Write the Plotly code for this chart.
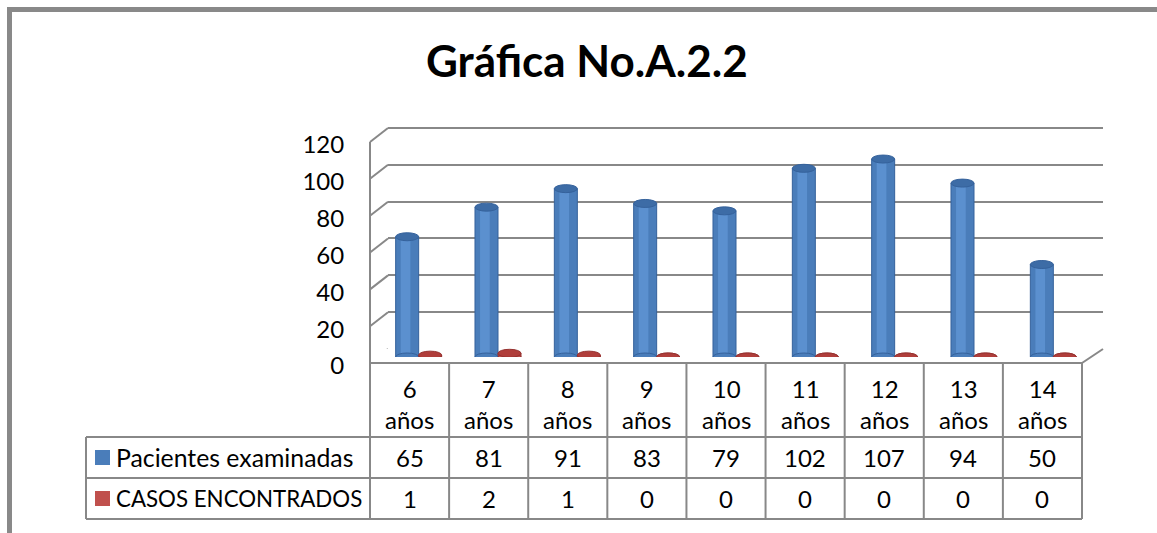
import plotly.graph_objects as go

# ---------------- data ----------------
categories = ["6 años", "7 años", "8 años", "9 años", "10 años",
              "11 años", "12 años", "13 años", "14 años"]
pacientes = [65, 81, 91, 83, 79, 102, 107, 94, 50]
casos = [1, 2, 1, 0, 0, 0, 0, 0, 0]
series_names = ["Pacientes examinadas", "CASOS ENCONTRADOS"]
y_ticks = [0, 20, 40, 60, 80, 100, 120]
title_text = "Gráfica No.A.2.2"

# ---------------- style / layout ----------------
W, H = 1157, 533
FONT = "Lato"
BLUE, RED = "#4A7DBA", "#C0504D"
BLUE_HI = "#5B90CF"
BLUE_TOP, BLUE_EDGE = "#3D6CA6", "#35629C"
RED_TOP, RED_EDGE = "#B03E3B", "#963230"
GRID = "#888888"

def px(p):
    return p / W

def py(p):
    return 1 - p / H

# pseudo-3D geometry (pixels)
BACK_X = (388, 1103)
BACK_Y = (349, 128)     # y of 0 and 120 on the back wall
MID_X = (379, 1093)
MID_Y = (357, 135)
FRONT_X = (370, 1082)
FRONT_Y = (366, 145)
FLOOR_FRONT = 363
TABLE_LEFT = 86
ROW_Y = [363, 437, 478, 519]

ymax = y_ticks[-1]
n = len(categories)
bw = 0.29   # bar width (category units)

# back-wall axis gets a little head-room so its top gridline is drawn
head = 1.0
back_top_px = BACK_Y[1] - (BACK_Y[0] - BACK_Y[1]) / ymax * head

fig = go.Figure()

# back wall subplot (gridlines)
fig.add_trace(go.Scatter(x=[], y=[], xaxis="x", yaxis="y", showlegend=False,
                         hoverinfo="skip"))
# bars subplot
fig.add_trace(go.Bar(x=categories, y=pacientes, name=series_names[0],
                     width=bw, offset=-bw,
                     marker=dict(color=BLUE, line=dict(color=BLUE_EDGE, width=1)),
                     xaxis="x2", yaxis="y2", showlegend=False, hoverinfo="skip"))
# cylinder highlight (same values, narrower, lighter)
fig.add_trace(go.Bar(x=categories, y=pacientes, name=series_names[0],
                     width=bw * 0.42, offset=-bw + bw * 0.22,
                     marker=dict(color=BLUE_HI, line=dict(width=0)),
                     xaxis="x2", yaxis="y2", showlegend=False, hoverinfo="skip"))
fig.add_trace(go.Bar(x=categories, y=casos, name=series_names[1],
                     width=bw, offset=0,
                     marker=dict(color=RED, line=dict(color=RED_EDGE, width=1)),
                     xaxis="x2", yaxis="y2", showlegend=False, hoverinfo="skip"))
# front tick-label subplot
fig.add_trace(go.Scatter(x=[], y=[], xaxis="x3", yaxis="y3", showlegend=False,
                         hoverinfo="skip"))

shapes = []
annotations = []

# cylinder ends (ellipses) derived from data values
for s_idx, (vals, top_fill, top_line, body) in enumerate(
        [(pacientes, BLUE_TOP, BLUE_EDGE, BLUE), (casos, RED_TOP, RED_EDGE, RED)]):
    off = (-bw / 2) if s_idx == 0 else (bw / 2)
    for i, v in enumerate(vals):
        c = i + off
        shapes.append(dict(type="circle", xref="x2", yref="y2", ysizemode="pixel",
                           yanchor=0, y0=-4, y1=4, x0=c - bw / 2, x1=c + bw / 2,
                           fillcolor=body, line=dict(color=top_line, width=1)))
        shapes.append(dict(type="circle", xref="x2", yref="y2", ysizemode="pixel",
                           yanchor=v, y0=-4, y1=4, x0=c - bw / 2, x1=c + bw / 2,
                           fillcolor=top_fill, line=dict(color=top_line, width=1)))

# side wall diagonals for each gridline
for v in y_ticks:
    shapes.append(dict(type="line", xref="paper", yref="y", ysizemode="pixel",
                       yanchor=v, x0=px(BACK_X[0]), x1=px(FRONT_X[0]),
                       y0=0, y1=-(FLOOR_FRONT - BACK_Y[0]),
                       line=dict(color=GRID, width=2), layer="below"))
# front left vertical edge
shapes.append(dict(type="line", xref="paper", yref="paper",
                   x0=px(FRONT_X[0]), x1=px(FRONT_X[0]),
                   y0=py(FLOOR_FRONT), y1=py(BACK_Y[1] + (FLOOR_FRONT - BACK_Y[0])),
                   line=dict(color=GRID, width=2), layer="below"))
# floor right diagonal
shapes.append(dict(type="line", xref="paper", yref="paper",
                   x0=px(BACK_X[1]), x1=px(FRONT_X[1]),
                   y0=py(BACK_Y[0]), y1=py(FLOOR_FRONT),
                   line=dict(color=GRID, width=2), layer="below"))

# ---------------- data table ----------------
col_w = (FRONT_X[1] - FRONT_X[0]) / n
col_edges = [FRONT_X[0] + k * col_w for k in range(n + 1)]
tline = dict(color=GRID, width=2)
for xe in col_edges:
    shapes.append(dict(type="line", xref="paper", yref="paper", x0=px(xe), x1=px(xe),
                       y0=py(ROW_Y[0]), y1=py(ROW_Y[-1]), line=tline))
shapes.append(dict(type="line", xref="paper", yref="paper",
                   x0=px(TABLE_LEFT), x1=px(TABLE_LEFT),
                   y0=py(ROW_Y[1]), y1=py(ROW_Y[-1]), line=tline))
shapes.append(dict(type="line", xref="paper", yref="paper", x0=px(FRONT_X[0]),
                   x1=px(FRONT_X[1]), y0=py(ROW_Y[0]), y1=py(ROW_Y[0]), line=tline))
for yr in ROW_Y[1:]:
    shapes.append(dict(type="line", xref="paper", yref="paper", x0=px(TABLE_LEFT),
                       x1=px(FRONT_X[1]), y0=py(yr), y1=py(yr), line=tline))

TFONT = dict(family=FONT, size=24, color="black")
for k, cat in enumerate(categories):
    xc = (col_edges[k] + col_edges[k + 1]) / 2
    annotations.append(dict(x=px(xc), y=py((ROW_Y[0] + ROW_Y[1]) / 2 + 4), xref="paper",
                            yref="paper", text=cat.replace(" ", "<br>"), showarrow=False,
                            xanchor="center", yanchor="middle", font=TFONT))
    for r, vals in enumerate([pacientes, casos]):
        yc = (ROW_Y[r + 1] + ROW_Y[r + 2]) / 2
        annotations.append(dict(x=px(xc), y=py(yc), xref="paper", yref="paper",
                                text=str(vals[k]), showarrow=False,
                                xanchor="center", yanchor="middle", font=TFONT))

legend_sizes = [24.8, 22.3]
for r, (name, color) in enumerate(zip(series_names, [BLUE, RED])):
    yc = (ROW_Y[r + 1] + ROW_Y[r + 2]) / 2
    shapes.append(dict(type="rect", xref="paper", yref="paper",
                       x0=px(TABLE_LEFT + 9), x1=px(TABLE_LEFT + 24),
                       y0=py(yc + 7.5), y1=py(yc - 7.5), fillcolor=color, line_width=0))
    annotations.append(dict(x=px(TABLE_LEFT + 28), y=py(yc), xref="paper", yref="paper",
                            text=name, showarrow=False, xanchor="left", yanchor="middle",
                            font=dict(family=FONT, size=legend_sizes[r], color="black")))

# title
annotations.append(dict(x=px(587), y=py(60), xref="paper", yref="paper",
                        text="<b>" + title_text + "</b>", showarrow=False,
                        xanchor="center", yanchor="middle",
                        font=dict(family=FONT, size=44, color="black")))

# outer chart border
shapes.append(dict(type="rect", xref="paper", yref="paper",
                   x0=px(9.5), x1=px(W + 20), y0=py(9.5), y1=py(H + 20),
                   line=dict(color="#898989", width=5), layer="below"))

hidden_x = dict(visible=False, showgrid=False, zeroline=False)

fig.update_layout(
    width=W, height=H, autosize=False,
    margin=dict(l=0, r=0, t=0, b=0, pad=0, autoexpand=False),
    paper_bgcolor="white", plot_bgcolor="rgba(0,0,0,0)",
    font=dict(family=FONT, size=24, color="black"),
    barmode="overlay",
    showlegend=False,
    xaxis=dict(domain=[px(BACK_X[0]), px(BACK_X[1])], range=[0, 1], anchor="y",
               **hidden_x),
    yaxis=dict(domain=[py(BACK_Y[0]), py(back_top_px)], range=[0, ymax + head],
               anchor="x", tickvals=y_ticks, showgrid=True, gridcolor=GRID,
               gridwidth=2, showticklabels=False, zeroline=False, showline=False,
               ticks="", automargin=False),
    xaxis2=dict(domain=[px(MID_X[0]), px(MID_X[1])], range=[-0.5, n - 0.5],
                anchor="y2", type="category", **hidden_x),
    yaxis2=dict(domain=[py(MID_Y[0]), py(MID_Y[1])], range=[0, ymax], anchor="x2",
                visible=False, showgrid=False, zeroline=False),
    xaxis3=dict(domain=[px(FRONT_X[0]), px(FRONT_X[1])], range=[0, 1], anchor="y3",
                **hidden_x),
    yaxis3=dict(domain=[py(FRONT_Y[0]), py(FRONT_Y[1])], range=[0, ymax], anchor="x3",
                tickvals=y_ticks, showgrid=False, zeroline=False, showline=False,
                ticks="outside", ticklen=20, tickcolor="rgba(0,0,0,0)",
                automargin=False,
                tickfont=dict(family=FONT, size=24, color="black")),
    shapes=shapes,
    annotations=annotations,
)

fig.write_html("out.html",
               config={"displayModeBar": False, "staticPlot": True},
               post_script="document.body.style.margin='0';"
                           "document.body.style.overflow='hidden';")
